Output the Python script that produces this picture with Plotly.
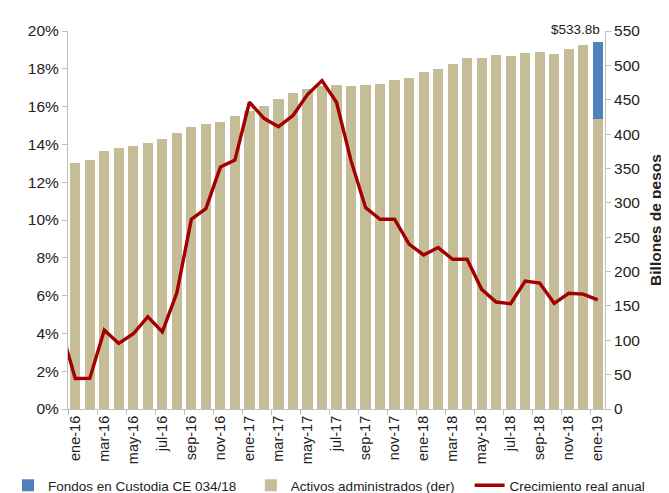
import plotly.graph_objects as go

months = ["ene-16","feb-16","mar-16","abr-16","may-16","jun-16","jul-16","ago-16","sep-16","oct-16","nov-16","dic-16",
          "ene-17","feb-17","mar-17","abr-17","may-17","jun-17","jul-17","ago-17","sep-17","oct-17","nov-17","dic-17",
          "ene-18","feb-18","mar-18","abr-18","may-18","jun-18","jul-18","ago-18","sep-18","oct-18","nov-18","dic-18",
          "ene-19"]

activos = [358, 363, 375, 380, 383, 387, 393, 401, 410, 414, 417, 427,
           434, 441, 451, 460, 466, 470, 471, 470, 472, 473, 478, 482,
           491, 495, 502, 511, 511, 515, 513, 518, 520, 517, 524, 529,
           422]

fondos_custodia = [None]*36 + [111.8]
total_label = "$533.8b"

# crecimiento real anual (%), first value is dic-15 (outside the visible range)
crec_months = ["dic-15"] + months
crecimiento = [4.3,
               1.61, 1.62, 4.17, 3.47, 3.98, 4.88, 4.08, 6.15, 10.04, 10.6, 12.8, 13.17,
               16.23, 15.38, 14.94, 15.53, 16.64, 17.38, 16.23, 13.14, 10.66, 10.04, 10.04, 8.72,
               8.15, 8.54, 7.92, 7.92, 6.33, 5.66, 5.57, 6.77, 6.66, 5.59, 6.12, 6.08,
               5.77]

x_idx = list(range(len(months)))
x_crec = list(range(-1, len(months)))

TAN = "#C4BD97"
BLUE = "#4F81BD"
RED = "#A50000"
GRID = "#BFBFBF"
FONT = "Liberation Sans, Arial, sans-serif"

fig = go.Figure()
fig.add_trace(go.Bar(x=x_idx, y=activos, name="Activos administrados (der)",
                     marker=dict(color=TAN, line=dict(width=0)), yaxis="y", legend="legend2"))
fig.add_trace(go.Bar(x=x_idx, y=fondos_custodia, name="Fondos en Custodia CE 034/18",
                     marker=dict(color=BLUE, line=dict(width=0)), yaxis="y", legend="legend"))
fig.add_trace(go.Scatter(x=x_crec, y=crecimiento, name="Crecimiento real anual", mode="lines",
                         line=dict(color=RED, width=3.4), yaxis="y2", legend="legend3"))

tickvals = x_idx[::2]
ticktext = months[::2]
minor_vals = [i - 0.5 for i in range(0, len(months) + 1, 2)]


def leg(xpos):
    return dict(orientation="h", xref="container", yref="container", x=xpos, y=0.0,
                xanchor="left", yanchor="bottom", font=dict(size=13.5), itemwidth=30,
                bgcolor="rgba(0,0,0,0)")


fig.update_layout(
    width=669, height=493,
    margin=dict(l=60, r=72, t=23, b=92),
    plot_bgcolor="white", paper_bgcolor="white",
    barmode="stack", bargap=0.3,
    font=dict(family=FONT, color="#222222", size=14),
    showlegend=True,
    legend=leg(-0.004),
    legend2=leg(0.363),
    legend3=leg(0.69),
    xaxis=dict(range=[-0.5, len(months) - 0.5], tickmode="array", tickvals=tickvals, ticktext=ticktext,
               tickangle=-90, ticks="", showline=True, linecolor=GRID, linewidth=1, automargin=False,
               tickfont=dict(size=14.5), showgrid=False, zeroline=False,
               minor=dict(tickmode="array", tickvals=minor_vals, ticks="outside", ticklen=5,
                          tickcolor=GRID, showgrid=False)),
    yaxis=dict(side="right", range=[0, 550], tickmode="array", tickvals=list(range(0, 551, 50)),
               showline=True, linecolor=GRID, linewidth=1, ticks="outside", ticklen=5, tickcolor=GRID,
               showgrid=False, zeroline=False, tickfont=dict(size=15.5), automargin=False,
               title=dict(text="<b>Billones de pesos</b>", font=dict(size=15.5), standoff=10)),
    yaxis2=dict(side="left", overlaying="y", range=[0, 20], tickmode="array",
                tickvals=list(range(0, 21, 2)), ticktext=[f"{v}%" for v in range(0, 21, 2)],
                showline=True, linecolor=GRID, linewidth=1, ticks="outside", ticklen=5, tickcolor=GRID,
                showgrid=False, zeroline=False, tickfont=dict(size=15.5), automargin=False),
)

fig.add_annotation(x=x_idx[-1], y=activos[-1] + fondos_custodia[-1], xref="x", yref="y",
                   text=total_label, showarrow=False, xanchor="right", yanchor="bottom",
                   xshift=4, yshift=3, font=dict(size=13.5, color="#222222"))

fig.write_html("out.html")
